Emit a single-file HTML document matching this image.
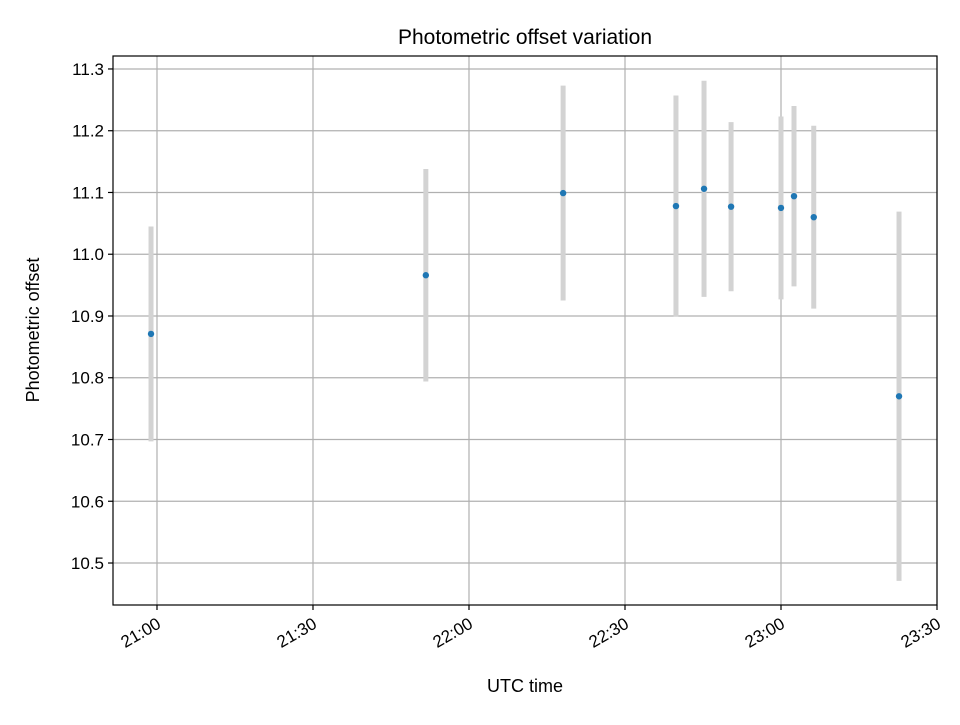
<!DOCTYPE html>
<html><head><meta charset="utf-8"><style>
body{margin:0;background:#fff;}
svg{font-family:"Liberation Sans","DejaVu Sans",sans-serif;}
</style></head><body>
<svg id="chart" width="960" height="720" xmlns="http://www.w3.org/2000/svg">
<rect width="960" height="720" fill="#fff"/>
<g id="grid"></g>
<g id="marks"></g>
<rect x="113" y="56" width="824" height="549" fill="none" stroke="#000" stroke-width="1.2"/>
<g id="axes"></g>
<text x="525" y="44" text-anchor="middle" font-size="21">Photometric offset variation</text>
<text x="525" y="692" text-anchor="middle" font-size="18">UTC time</text>
<text transform="translate(39,330) rotate(-90)" text-anchor="middle" font-size="18">Photometric offset</text>
</svg>
<script>
// minutes after 21:00 UTC
const times = [-1.15, 51.7, 78.1, 99.8, 105.2, 110.4, 120.0, 122.5, 126.3, 142.7];
const offsets = [10.871, 10.966, 11.099, 11.078, 11.106, 11.077, 11.075, 11.094, 11.060, 10.770];
const errors = [0.174, 0.172, 0.174, 0.179, 0.175, 0.137, 0.148, 0.146, 0.148, 0.299];
const yTicks = [10.5, 10.6, 10.7, 10.8, 10.9, 11.0, 11.1, 11.2, 11.3];
const xTicks = [0, 30, 60, 90, 120, 150];
const xTickLabels = ["21:00", "21:30", "22:00", "22:30", "23:00", "23:30"];

const NS = "http://www.w3.org/2000/svg";
const L = 113, R = 937, T = 56, B = 605;
const xMin = -8.46, xMax = 150.0, yMin = 10.432, yMax = 11.321;
const xs = v => L + (v - xMin) / (xMax - xMin) * (R - L);
const ys = v => B - (v - yMin) / (yMax - yMin) * (B - T);
function mk(tag, attrs, parent) {
  const e = document.createElementNS(NS, tag);
  for (const k in attrs) e.setAttribute(k, attrs[k]);
  parent.appendChild(e);
  return e;
}
const grid = document.getElementById('grid');
const axes = document.getElementById('axes');
const marks = document.getElementById('marks');

yTicks.forEach(v => {
  const y = ys(v);
  const g = mk('line', {x1: L, x2: R, y1: y, y2: y, stroke: '#b0b0b0', 'stroke-width': 1.2}, grid);
  
  
  const t = mk('line', {x1: L - 5, x2: L, y1: y, y2: y, stroke: '#000', 'stroke-width': 1.2}, axes);
  
  
  const lb = mk('text', {x: L - 9, y: y + 6, 'text-anchor': 'end', 'font-size': 17}, axes);
  lb.textContent = v.toFixed(1);
  
  
});
xTicks.forEach((v, i) => {
  const x = xs(v);
  const g = mk('line', {x1: x, x2: x, y1: T, y2: B, stroke: '#b0b0b0', 'stroke-width': 1.2}, grid);
  
  
  const t = mk('line', {x1: x, x2: x, y1: B, y2: B + 5, stroke: '#000', 'stroke-width': 1.2}, axes);
  
  
  const lb = mk('text', {transform: `translate(${x + 5},${B + 22}) rotate(-30)`, 'text-anchor': 'end', 'font-size': 17}, axes);
  lb.textContent = xTickLabels[i];
  
  
});
times.forEach((t, i) => {
  const x = xs(t);
  const eb = mk('line', {x1: x, x2: x, y1: ys(offsets[i] + errors[i]), y2: ys(offsets[i] - errors[i]), stroke: '#d3d3d3', 'stroke-width': 5}, marks);
  
  
});
times.forEach((t, i) => {
  const p = mk('circle', {cx: xs(t), cy: ys(offsets[i]), r: 3.2, fill: '#1f77b4'}, marks);
  
  
});
</script>
</body></html>
